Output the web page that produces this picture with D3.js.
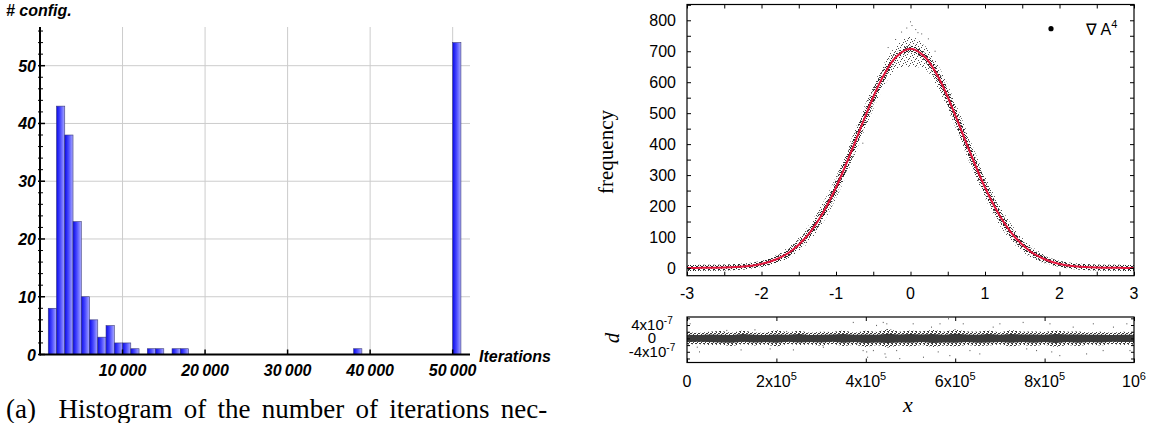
<!DOCTYPE html>
<html>
<head>
<meta charset="utf-8">
<script src="https://cdn.jsdelivr.net/npm/d3@7"></script>
<style>
  body { margin: 0; background: #fff; }
  svg { display: block; }
</style>
</head>
<body>
<svg id="chart" width="1160" height="423"></svg>
<script>
// ---------- left: histogram of iterations ----------
var binStart = [1000, 2000, 3000, 4000, 5000, 6000, 7000, 8000, 9000, 10000, 11000,
                13000, 14000, 16000, 17000, 38000, 50000];
var binCount = [8, 43, 38, 23, 10, 6, 3, 5, 2, 2, 1, 1, 1, 1, 1, 1, 54];
var binWidth = 1000;
var histXTicks = [10000, 20000, 30000, 40000, 50000];
var histXLabels = ["10\u2009000", "20\u2009000", "30\u2009000", "40\u2009000", "50\u2009000"];
var histYTicks = [0, 10, 20, 30, 40, 50];
var histYMinor = [2, 4, 6, 8, 12, 14, 16, 18, 22, 24, 26, 28, 32, 34, 36, 38, 42, 44, 46, 48, 52, 54, 56];

// ---------- right top: frequency vs x ----------
var gx = [-3, -2.8, -2.6, -2.4, -2.2, -2, -1.8, -1.6, -1.4, -1.2, -1, -0.8, -0.6, -0.4, -0.2,
          0, 0.2, 0.4, 0.6, 0.8, 1, 1.2, 1.4, 1.6, 1.8, 2, 2.2, 2.4, 2.6, 2.8, 3];
var fitFreq = [0.1, 0.3, 0.8, 2.2, 5.6, 13, 28, 55, 100, 168, 260, 373, 494, 604, 680,
               708, 680, 604, 494, 373, 260, 168, 100, 55, 28, 13, 5.6, 2.2, 0.8, 0.3, 0.1];
var cloudUpper = [1.5, 2, 3, 6, 11, 22, 42, 75, 126, 200, 295, 412, 533, 640, 715,
                  748, 716, 642, 535, 414, 297, 201, 126, 75, 42, 22, 11, 6, 3, 2, 1.5];
var cloudLower = [0, 0, 0, 0, 1, 5, 15, 36, 75, 136, 225, 335, 455, 565, 640,
                  650, 640, 566, 456, 336, 226, 136, 75, 36, 15, 5, 1, 0, 0, 0, 0];
var peakOutX = [0.0, -0.05, 0.07, -0.12, 0.15, -0.2, 0.24, -0.64, 0.02, 0.1, -0.3, 0.33];
var peakOutY = [795, 775, 770, 762, 756, 738, 740, 403, 783, 760, 712, 700];
var freqYTicks = [0, 100, 200, 300, 400, 500, 600, 700, 800];
var freqXTicks = [-3, -2, -1, 0, 1, 2, 3];

// ---------- right bottom: residual d vs x (d in units of 1e-7, x in units of 1e5) ----------
var rx = [0, 0.25, 0.5, 0.75, 1, 1.25, 1.5, 1.75, 2, 2.25, 2.5, 2.75, 3, 3.25, 3.5, 3.75, 4, 4.25,
          4.5, 4.75, 5, 5.25, 5.5, 5.75, 6, 6.25, 6.5, 6.75, 7, 7.25, 7.5, 7.75, 8, 8.25, 8.5,
          8.75, 9, 9.25, 9.5, 9.75, 10];
var resCoreUpper = [1.1, 1.0, 1.2, 1.1, 1.0, 1.3, 1.1, 1.0, 1.2, 1.1, 1.3, 1.0, 1.1, 1.2, 1.3, 1.1,
                    1.2, 1.1, 1.4, 1.2, 1.3, 1.2, 1.3, 1.1, 1.4, 1.2, 1.1, 1.3, 1.1, 1.3, 1.2, 1.2,
                    1.1, 1.3, 1.2, 1.2, 1.1, 1.1, 1.0, 1.1, 1.1];
var resCoreLower = [-1.1, -1.0, -1.1, -1.2, -1.3, -1.0, -1.2, -1.1, -1.3, -1.0, -1.2, -1.1, -1.2,
                    -1.0, -1.3, -1.1, -1.4, -1.2, -1.4, -1.2, -1.3, -1.1, -1.4, -1.2, -1.3, -1.1,
                    -1.3, -1.2, -1.1, -1.3, -1.1, -1.3, -1.1, -1.4, -1.1, -1.3, -1.1, -1.2, -1.0,
                    -1.1, -1.1];
var resUpper = [1.9, 1.6, 2.0, 2.2, 1.7, 2.4, 1.8, 1.7, 2.5, 1.8, 2.3, 1.7, 2.0, 1.9, 2.4, 1.7,
                2.3, 1.9, 2.8, 2.0, 2.4, 2.1, 2.6, 2.0, 2.7, 2.1, 2.0, 2.4, 1.8, 2.5, 2.0, 2.1,
                1.9, 2.4, 2.0, 2.1, 1.8, 2.0, 1.7, 2.0, 1.8];
var resLower = [-1.8, -1.7, -2.0, -1.9, -2.3, -1.7, -2.1, -1.8, -2.4, -1.7, -2.0, -1.8, -2.2,
                -1.7, -2.3, -1.9, -2.6, -2.0, -2.7, -2.1, -2.4, -2.0, -2.6, -2.1, -2.4, -2.0,
                -2.3, -2.1, -1.8, -2.4, -2.0, -2.3, -1.9, -2.6, -2.0, -2.3, -1.8, -2.1, -1.7,
                -2.0, -1.8];
var resOutX = [0.07, 0.23, 0.28, 0.89, 1.21, 1.52, 1.86, 2.23, 2.38, 3.05, 3.72, 3.80, 4.02, 4.04,
               4.17, 4.39, 4.43, 4.45, 3.94, 4.24, 4.47, 4.69, 4.76, 5.06, 5.29, 5.47, 5.62, 5.66,
               5.85, 5.88, 6.18, 6.33, 6.55, 6.85, 7.00, 7.52, 7.60, 7.82, 8.12, 8.16, 8.34, 8.64,
               8.94, 9.09, 9.31, 9.54, 9.84, 9.91];
var resOutY = [4.4, -2.6, -4.0, 2.4, -3.4, 2.6, -3.1, 2.1, -3.4, -2.6, 4.8, -1.6, -4.0, -5.6,
               -3.6, 4.8, -4.6, -5.6, -3.6, 3.9, 4.4, -3.6, -6.0, 4.4, -5.6, 3.4, -4.0, 4.4,
               5.9, -5.1, 4.4, -3.6, -4.6, 3.4, 4.4, 4.8, -3.1, -3.6, 4.4, -4.0, -5.1, 3.4,
               -4.6, 4.4, -3.6, 3.4, 4.4, -3.6];
var resXTicks = [0, 2, 4, 6, 8, 10];
var resXBase = ["0", "2x10", "4x10", "6x10", "8x10", "10"];
var resXExp = ["", "5", "5", "5", "5", "6"];
var resYTicks = [4, 0, -4];
var resYBase = ["4x10", "0", "-4x10"];
var resYExp = ["-7", "", "-7"];

var svg = d3.select("#chart");
var defs = svg.append("defs");

// bar shading
var grad = defs.append("linearGradient").attr("id", "barGrad")
  .attr("x1", "0%").attr("x2", "100%").attr("y1", "0%").attr("y2", "0%");
grad.append("stop").attr("offset", "0%").attr("stop-color", "#0a0ae8");
grad.append("stop").attr("offset", "45%").attr("stop-color", "#4848ff");
grad.append("stop").attr("offset", "100%").attr("stop-color", "#aaaaff");

// speckle patterns for the point clouds
function speckle(id, size, dots, color) {
  var p = defs.append("pattern").attr("id", id)
    .attr("patternUnits", "userSpaceOnUse").attr("width", size).attr("height", size);
  dots.forEach(function (q) {
    p.append("rect").attr("x", q[0]).attr("y", q[1]).attr("width", 1).attr("height", 1).attr("fill", color);
  });
}
speckle("speckSparse", 7, [[0, 0], [3, 1], [6, 2], [1, 4], [4, 5], [2, 6], [5, 3]], "#4a4a4a");
speckle("speckDense", 5, [[0, 0], [2, 1], [4, 2], [1, 3], [3, 4], [3, 0], [0, 2], [4, 4], [1, 1]], "#262626");
speckle("speckRes", 4, [[0, 0], [2, 1], [1, 2], [3, 3], [3, 1], [0, 3]], "#3a3a3a");

// ================= histogram =================
var xH = d3.scaleLinear().domain([0, 52100]).range([40, 470]);
var yH = d3.scaleLinear().domain([0, 56.7]).range([354.5, 27]);
var hist = svg.append("g");
var boldIt = "'Liberation Sans', Arial, sans-serif";

hist.selectAll(".vgrid").data(histXTicks).enter().append("line")
  .attr("x1", function (d) { return xH(d); }).attr("x2", function (d) { return xH(d); })
  .attr("y1", yH(56.7)).attr("y2", yH(0))
  .attr("stroke", "#cccccc").attr("stroke-width", 1);
hist.selectAll(".hgrid").data(histYTicks.slice(1)).enter().append("line")
  .attr("x1", xH(0)).attr("x2", xH(52100))
  .attr("y1", function (d) { return yH(d); }).attr("y2", function (d) { return yH(d); })
  .attr("stroke", "#cccccc").attr("stroke-width", 1);

hist.selectAll(".bar").data(binStart).enter().append("rect")
  .attr("x", function (d) { return xH(d); })
  .attr("width", function (d) { return xH(d + binWidth) - xH(d); })
  .attr("y", function (d, i) { return yH(binCount[i]); })
  .attr("height", function (d, i) { return yH(0) - yH(binCount[i]); })
  .attr("fill", "url(#barGrad)")
  .attr("stroke", "#3a3a7a").attr("stroke-width", 0.6);

// axes
hist.append("line").attr("x1", xH(0)).attr("x2", xH(52100)).attr("y1", yH(0)).attr("y2", yH(0))
  .attr("stroke", "#000").attr("stroke-width", 2);
hist.append("line").attr("x1", xH(0)).attr("x2", xH(0)).attr("y1", yH(56.7)).attr("y2", yH(0) + 1)
  .attr("stroke", "#000").attr("stroke-width", 2);
hist.selectAll(".xt").data(histXTicks).enter().append("line")
  .attr("x1", function (d) { return xH(d); }).attr("x2", function (d) { return xH(d); })
  .attr("y1", yH(0)).attr("y2", yH(0) - 5).attr("stroke", "#000").attr("stroke-width", 1.5);
hist.selectAll(".yt").data(histYTicks).enter().append("line")
  .attr("x1", xH(0) - 2).attr("x2", xH(0) + 5)
  .attr("y1", function (d) { return yH(d); }).attr("y2", function (d) { return yH(d); })
  .attr("stroke", "#000").attr("stroke-width", 1.5);
hist.selectAll(".ym").data(histYMinor).enter().append("line")
  .attr("x1", xH(0) - 2).attr("x2", xH(0) + 3)
  .attr("y1", function (d) { return yH(d); }).attr("y2", function (d) { return yH(d); })
  .attr("stroke", "#000").attr("stroke-width", 1);

hist.selectAll(".xl").data(histXTicks).enter().append("text")
  .attr("x", function (d) { return xH(d); }).attr("y", 376)
  .attr("text-anchor", "middle")
  .style("font", "italic bold 16px " + boldIt)
  .text(function (d, i) { return histXLabels[i]; });
hist.selectAll(".yl").data(histYTicks).enter().append("text")
  .attr("x", 36).attr("y", function (d) { return yH(d) + 6; })
  .attr("text-anchor", "end")
  .style("font", "italic bold 16px " + boldIt)
  .text(function (d) { return d; });
hist.append("text").attr("x", 6).attr("y", 16)
  .style("font", "italic bold 16px " + boldIt).text("# config.");
hist.append("text").attr("x", 479).attr("y", 362)
  .style("font", "italic bold 16px " + boldIt).text("Iterations");

svg.append("text").attr("x", 6).attr("y", 418)
  .style("font", "27px 'Liberation Serif', 'Times New Roman', serif")
  .style("word-spacing", "4.5px")
  .attr("xml:space", "preserve")
  .text("(a)  Histogram of the number of iterations nec-");

// ================= frequency panel =================
var sans = "'Liberation Sans', Arial, Helvetica, sans-serif";
var serif = "'Liberation Serif', 'DejaVu Serif', serif";
var xG = d3.scaleLinear().domain([-3, 3]).range([687, 1134]);
var yG = d3.scaleLinear().domain([-25, 851]).range([275.7, 4.5]);
var freqG = svg.append("g");

var idx = d3.range(gx.length);
var cloud = d3.area()
  .x(function (i) { return xG(gx[i]); })
  .y0(function (i) { return yG(cloudLower[i]); })
  .y1(function (i) { return yG(cloudUpper[i]); })
  .curve(d3.curveCatmullRom);
freqG.append("path").attr("d", cloud(idx)).attr("fill", "url(#speckSparse)");

var fitLine = d3.line()
  .x(function (i) { return xG(gx[i]); })
  .y(function (i) { return yG(fitFreq[i]); })
  .curve(d3.curveCatmullRom);
freqG.append("path").attr("d", fitLine(idx)).attr("fill", "none")
  .attr("stroke", "url(#speckDense)").attr("stroke-width", 6);
freqG.selectAll(".pout").data(peakOutX).enter().append("rect")
  .attr("x", function (d) { return xG(d) - 0.5; })
  .attr("y", function (d, i) { return yG(peakOutY[i]) - 0.5; })
  .attr("width", 1).attr("height", 1).attr("fill", "#555");
freqG.append("path").attr("d", fitLine(idx)).attr("fill", "none")
  .attr("stroke", "#e3173e").attr("stroke-width", 2);

// frame and inward ticks
freqG.append("rect").attr("x", 687).attr("y", 4.5).attr("width", 447).attr("height", 271.2)
  .attr("fill", "none").attr("stroke", "#000").attr("stroke-width", 1.2);
var gxMinor = d3.range(-3, 3.01, 0.5);
var gyMinor = d3.range(0, 851, 50);
freqG.append("g").attr("transform", "translate(0,275.7)")
  .call(d3.axisBottom(xG).tickValues(gxMinor).tickSize(-4).tickFormat(""))
  .call(function (g) { g.select(".domain").remove(); });
freqG.append("g").attr("transform", "translate(0,4.5)")
  .call(d3.axisTop(xG).tickValues(gxMinor).tickSize(-4).tickFormat(""))
  .call(function (g) { g.select(".domain").remove(); });
freqG.append("g").attr("transform", "translate(687,0)")
  .call(d3.axisLeft(yG).tickValues(gyMinor).tickSize(-4).tickFormat(""))
  .call(function (g) { g.select(".domain").remove(); });
freqG.append("g").attr("transform", "translate(1134,0)")
  .call(d3.axisRight(yG).tickValues(gyMinor).tickSize(-4).tickFormat(""))
  .call(function (g) { g.select(".domain").remove(); });
freqG.selectAll(".tick line").attr("stroke", "#000").attr("stroke-width", 1);

freqG.selectAll(".fyl").data(freqYTicks).enter().append("text")
  .attr("x", 676).attr("y", function (d) { return yG(d) + 6; })
  .attr("text-anchor", "end").style("font", "16px " + sans)
  .text(function (d) { return d; });
freqG.selectAll(".fxl").data(freqXTicks).enter().append("text")
  .attr("x", function (d) { return xG(d); }).attr("y", 299)
  .attr("text-anchor", "middle").style("font", "16px " + sans)
  .text(function (d) { return d; });
freqG.append("text").attr("transform", "translate(613,152) rotate(-90)")
  .attr("text-anchor", "middle").style("font", "21px " + serif).text("frequency");

// legend
freqG.append("circle").attr("cx", 1051).attr("cy", 28.7).attr("r", 2.6).attr("fill", "#000");
var leg = freqG.append("text").attr("x", 1086).attr("y", 35).style("font", "16px " + sans);
leg.append("tspan").text("\u2207 A");
leg.append("tspan").attr("dy", -7).style("font-size", "11px").text("4");

// ================= residual panel =================
var xR = d3.scaleLinear().domain([0, 10]).range([687, 1134]);
var yR = d3.scaleLinear().domain([-7.2, 6.4]).range([362.5, 317]);
var resG = svg.append("g");
var ridx = d3.range(rx.length);
resG.append("path")
  .attr("d", d3.area()
    .x(function (i) { return xR(rx[i]); })
    .y0(function (i) { return yR(resLower[i]); })
    .y1(function (i) { return yR(resUpper[i]); })(ridx))
  .attr("fill", "url(#speckRes)");
resG.append("path")
  .attr("d", d3.area()
    .x(function (i) { return xR(rx[i]); })
    .y0(function (i) { return yR(resCoreLower[i]); })
    .y1(function (i) { return yR(resCoreUpper[i]); })(ridx))
  .attr("fill", "#3a3a3a");
resG.selectAll(".rout").data(resOutX).enter().append("rect")
  .attr("x", function (d) { return xR(d) - 0.5; })
  .attr("y", function (d, i) { return yR(resOutY[i]) - 0.5; })
  .attr("width", 1).attr("height", 1.2).attr("fill", "#666");

resG.append("rect").attr("x", 687).attr("y", 317).attr("width", 447).attr("height", 45.5)
  .attr("fill", "none").attr("stroke", "#000").attr("stroke-width", 1.2);
resG.append("g").attr("transform", "translate(0,362.5)")
  .call(d3.axisBottom(xR).tickValues(resXTicks).tickSize(-4).tickFormat(""))
  .call(function (g) { g.select(".domain").remove(); });
resG.append("g").attr("transform", "translate(0,317)")
  .call(d3.axisTop(xR).tickValues(resXTicks).tickSize(-4).tickFormat(""))
  .call(function (g) { g.select(".domain").remove(); });
var ryMinor = [-6, -4, -2, 0, 2, 4, 6];
resG.append("g").attr("transform", "translate(687,0)")
  .call(d3.axisLeft(yR).tickValues(ryMinor).tickSize(-3).tickFormat(""))
  .call(function (g) { g.select(".domain").remove(); });
resG.append("g").attr("transform", "translate(1134,0)")
  .call(d3.axisRight(yR).tickValues(ryMinor).tickSize(-3).tickFormat(""))
  .call(function (g) { g.select(".domain").remove(); });
resG.selectAll(".tick line").attr("stroke", "#000").attr("stroke-width", 1);

resXTicks.forEach(function (d, i) {
  var t = resG.append("text").attr("x", xR(d)).attr("y", 387)
    .attr("text-anchor", "middle").style("font", "16px " + sans);
  t.append("tspan").text(resXBase[i]);
  if (resXExp[i]) t.append("tspan").attr("dy", -7).style("font-size", "11px").text(resXExp[i]);
});
resYTicks.forEach(function (d, i) {
  var t = resG.append("text").attr("x", 652).attr("y", yR(d) + 5)
    .attr("text-anchor", "middle").style("font", "15px " + sans);
  t.append("tspan").text(resYBase[i]);
  if (resYExp[i]) t.append("tspan").attr("dy", -6).style("font-size", "10px").text(resYExp[i]);
});
resG.append("text").attr("transform", "translate(619,338) rotate(-90)")
  .attr("text-anchor", "middle").style("font", "italic 21px " + serif).text("d");
resG.append("text").attr("x", 908).attr("y", 412)
  .attr("text-anchor", "middle").style("font", "italic 22px " + serif).text("x");
</script>
</body>
</html>
